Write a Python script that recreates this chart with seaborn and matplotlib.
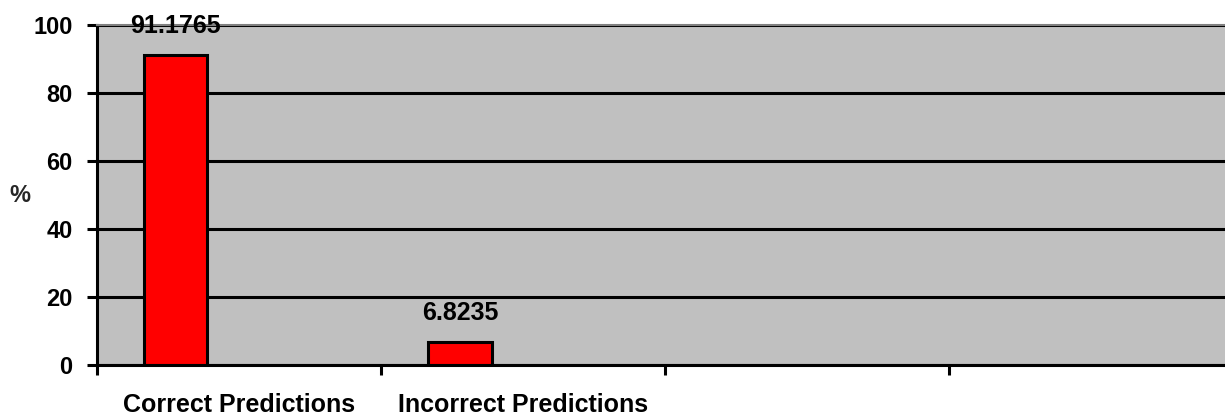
import numpy as np
import pandas as pd
import matplotlib
matplotlib.use("Agg")
import matplotlib.pyplot as plt
import seaborn as sns

# data
categories = ["Correct Predictions", "Incorrect Predictions", " ", "  "]
used_categories = ["Correct Predictions", "Incorrect Predictions"]
values = [91.1765, 6.8235]
series_names = ["s1", "s2", "s3"]  # excel-style cluster of 3, only the first has data
y_ticks = [0, 20, 40, 60, 80, 100]

df = pd.DataFrame({"category": used_categories, "value": values, "series": series_names[0]})

sns.set_style("white")
plt.rcParams['font.family'] = ['Liberation Sans', 'DejaVu Sans']
plt.rcParams['font.weight'] = 'bold'
plt.rcParams['text.color'] = 'black'
plt.rcParams['xtick.color'] = 'black'
plt.rcParams['ytick.color'] = 'black'

fig = plt.figure(figsize=(12.25, 4.17), dpi=100)
ax = fig.add_axes([97 / 1225, 1 - 365 / 417, 1 - 97 / 1225, 340 / 417])
ax.set_facecolor("#C0C0C0")

sns.barplot(data=df, x="category", y="value", hue="series", order=categories,
            hue_order=series_names, palette={s: "#FF0000" for s in series_names},
            dodge=True, width=2 / 3, saturation=1, edgecolor="black", linewidth=2.2,
            legend=False, ax=ax)

for c in ax.containers:
    ax.bar_label(c, fmt="%.4f", padding=12, fontsize=18, fontweight="bold", color="black")

ax.set_ylim(0, 100)
ax.set_xlim(-0.5, 3.47)
ax.set_yticks(y_ticks)
ax.yaxis.grid(True, color="black", linewidth=2.2)
ax.set_axisbelow(True)

# category labels in the slot centres, tick marks on the slot boundaries
ax.set_xticks(range(len(categories)))
ax.set_xticklabels(categories)
ax.set_xticks(np.arange(len(categories)) - 0.5, minor=True)
ax.tick_params(axis="x", which="major", bottom=True, length=0, pad=20, labelsize=18)
ax.tick_params(axis="x", which="minor", bottom=True, length=7.5, width=2.2, color="black", direction="out")
ax.tick_params(axis="y", left=True, length=7.5, width=2.2, color="black", direction="out", pad=10, labelsize=17)
for lab in ax.get_xticklabels() + ax.get_yticklabels():
    lab.set_fontweight("bold")

ax.set_xlabel("")
ax.set_ylabel("%", rotation=0, fontsize=17, fontweight="bold", va="center", ha="center")
ax.yaxis.set_label_coords(-0.068, 0.5)

ax.spines["left"].set_color("black")
ax.spines["left"].set_linewidth(2.2)
ax.spines["bottom"].set_color("black")
ax.spines["bottom"].set_linewidth(2.2)
ax.spines["top"].set_color("#808080")
ax.spines["top"].set_linewidth(1.5)
ax.spines["right"].set_visible(False)

fig.savefig("out.png", dpi=100)
